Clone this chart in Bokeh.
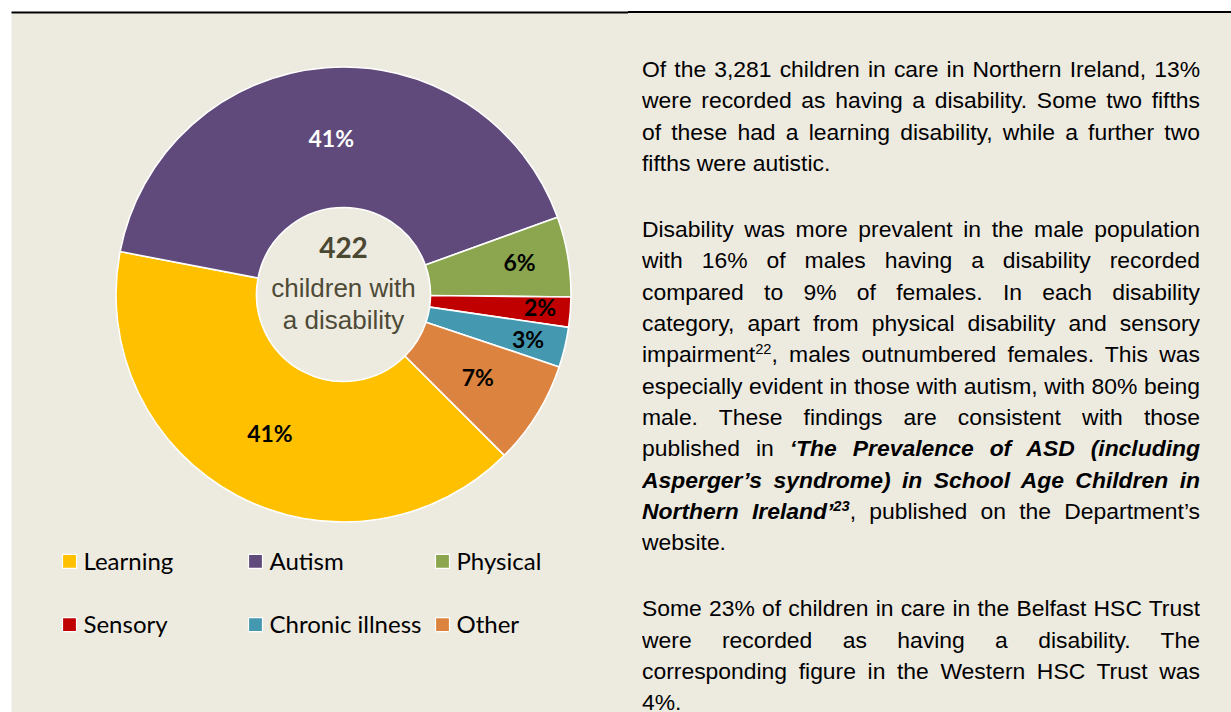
import math
from bokeh.plotting import figure
from bokeh.models import ColumnDataSource, Range1d, Div
from bokeh.layouts import row
from bokeh.core.properties import value
from bokeh.embed import file_html
from bokeh.resources import INLINE

# ---------------- data ----------------
categories = ["Learning", "Autism", "Physical", "Sensory", "Chronic illness", "Other"]
counts = [171, 175, 24, 9, 12, 31]
colors = ["#FFC000", "#604A7B", "#8BA64F", "#C00000", "#4499B1", "#DC843F"]
label_colors = ["#000000", "#FFFFFF", "#000000", "#000000", "#000000", "#000000"]
centre_caption = ["children with", "a disability"]

# ---------------- layout / style ----------------
BG = "#EDEAE0"
W_FIG, H = 628, 712
CX, CY = 343, -294          # page pixels (y negated)
R_IN, R_OUT = 87, 227.5
START = -math.pi / 4         # first slice starts at 135 deg clockwise from 12 o'clock
label_r = [157, 157, 179, 197, 190, 158]
label_shift = [0.0, 0.0, 0.016, 0.014, -0.005, 0.0]   # radians, small nudges
PCT_SIZE = 23
BASE_FIX = 0.36              # em: svg text sits this much lower than requested baseline

total = sum(counts)
cum = [0]
for c in counts:
    cum.append(cum[-1] + c)
angles = [START - 2 * math.pi * v / total for v in cum]
starts = angles[:-1]
ends = angles[1:]
mids = [(a + b) / 2 + s for a, b, s in zip(starts, ends, label_shift)]
pct = [f"{round(100 * c / total)}%" for c in counts]
lx = [CX + r * math.cos(m) for r, m in zip(label_r, mids)]
ly = [CY + r * math.sin(m) - 8 + BASE_FIX * PCT_SIZE for r, m in zip(label_r, mids)]

src = ColumnDataSource(dict(cat=categories, start=starts, end=ends, color=colors,
                            lx=lx, ly=ly, pct=pct, lcolor=label_colors))

p = figure(width=W_FIG, height=H, x_range=Range1d(0, W_FIG), y_range=Range1d(-H, 0),
           output_backend="svg", toolbar_location=None, min_border=0,
           x_axis_location=None, y_axis_location=None,
           background_fill_color="white", border_fill_color="white",
           outline_line_color=None)
p.grid.visible = False

# panel background and top rule
p.quad(left=[11], right=[W_FIG], top=[-13], bottom=[-H], fill_color=BG, line_color=None)
p.quad(left=[11], right=[W_FIG], top=[-11], bottom=[-13], fill_color="#000000", line_color=None)

# donut
p.annular_wedge(x=CX, y=CY, inner_radius=R_IN, outer_radius=R_OUT,
                start_angle="start", end_angle="end", direction="clock",
                fill_color="color", line_color="white", line_width=1.6, source=src)

p.text(x="lx", y="ly", text="pct", text_color="lcolor", text_font=value("Lato"),
       text_font_style="bold", text_font_size=f"{PCT_SIZE}px", text_align="center",
       text_baseline="alphabetic", source=src)

# centre text
p.text(x=[CX], y=[-256.7 + BASE_FIX * 28], text=[str(total)], text_color="#4B4832",
       text_font=value("Lato"), text_font_style="bold", text_font_size="28px",
       text_align="center", text_baseline="alphabetic")
p.text(x=[CX, CX], y=[-297.3 + BASE_FIX * 26, -328.5 + BASE_FIX * 26], text=centre_caption,
       text_color="#4E4A36", text_font=value("Liberation Sans"), text_font_size="26px",
       text_align="center", text_baseline="alphabetic")

# legend (3 columns x 2 rows)
LEG_SIZE = 24
col_sq = [69, 255, 442]
row_y = [560.8, 624.2]
lgx, lgy, ltx, lty = [], [], [], []
for i, cat in enumerate(categories):
    c, r = i % 3, i // 3
    lgx.append(col_sq[c])
    lgy.append(-row_y[r])
    ltx.append(col_sq[c] + 14)
    lty.append(-(row_y[r] + 7.6) + BASE_FIX * LEG_SIZE)
lsrc = ColumnDataSource(dict(x=lgx, y=lgy, tx=ltx, ty=lty, cat=categories, color=colors))
p.rect(x="x", y="y", width=14, height=14, width_units="screen", height_units="screen",
       fill_color="color", line_color="white", line_width=1.2, source=lsrc)
p.text(x="tx", y="ty", text="cat", text_color="#000000", text_font=value("Lato"),
       text_font_size=f"{LEG_SIZE}px", text_align="left", text_baseline="alphabetic",
       source=lsrc)

# ---------------- right-hand text ----------------
TEXT_W = 558
LINE_CSS = f"width:{TEXT_W}px;box-sizing:border-box;white-space:nowrap;overflow:hidden;"

def J(s):
    return f'<div style="{LINE_CSS}text-align:justify;text-align-last:justify">{s}</div>'

def L(s):
    return f'<div style="{LINE_CSS}text-align:left">{s}</div>'

SUP = '<sup style="font-size:0.64em;line-height:0;vertical-align:0.55em">'
BI = '<b><i>'
EBI = '</i></b>'

para1 = [J("Of the 3,281 children in care in Northern Ireland, 13%"),
         J("were recorded as having a disability. Some two fifths"),
         J("of these had a learning disability, while a further two"),
         L("fifths were autistic.")]
para2 = [J("Disability was more prevalent in the male population"),
         J("with 16% of males having a disability recorded"),
         J("compared to 9% of females. In each disability"),
         J("category, apart from physical disability and sensory"),
         J(f"impairment{SUP}22</sup>, males outnumbered females. This was"),
         J("especially evident in those with autism, with 80% being"),
         J("male. These findings are consistent with those"),
         J(f"published in {BI}‘The Prevalence of ASD (including{EBI}"),
         J(f"{BI}Asperger’s syndrome) in School Age Children in{EBI}"),
         J(f"{BI}Northern Ireland’{SUP}23</sup>{EBI}, published on the Department’s"),
         L("website.")]
para3 = [J("Some 23% of children in care in the Belfast HSC Trust"),
         J("were recorded as having a disability. The"),
         J("corresponding figure in the Western HSC Trust was"),
         L("4%.")]

def P(lines):
    return '<div style="margin:0 0 34.6px 0">' + "".join(lines) + "</div>"

W_DIV = 1231 - W_FIG
html = ('<div style="box-sizing:border-box;width:' + str(W_DIV) + 'px;height:701px;margin:11px 0 0 0;'
        'border-top:2px solid #000;background:' + BG + ';padding:41px 0 0 14px;'
        'overflow:hidden;font-family:\'Liberation Sans\',Arial,sans-serif;font-size:22.9px;'
        'line-height:31.35px;color:#000">' + P(para1) + P(para2) + P(para3) + '</div>')

div = Div(text=html, width=W_DIV, height=H, styles={"margin": "0", "padding": "0"})

layout = row(p, div, spacing=0)

open("out.html", "w").write(file_html(layout, INLINE))
